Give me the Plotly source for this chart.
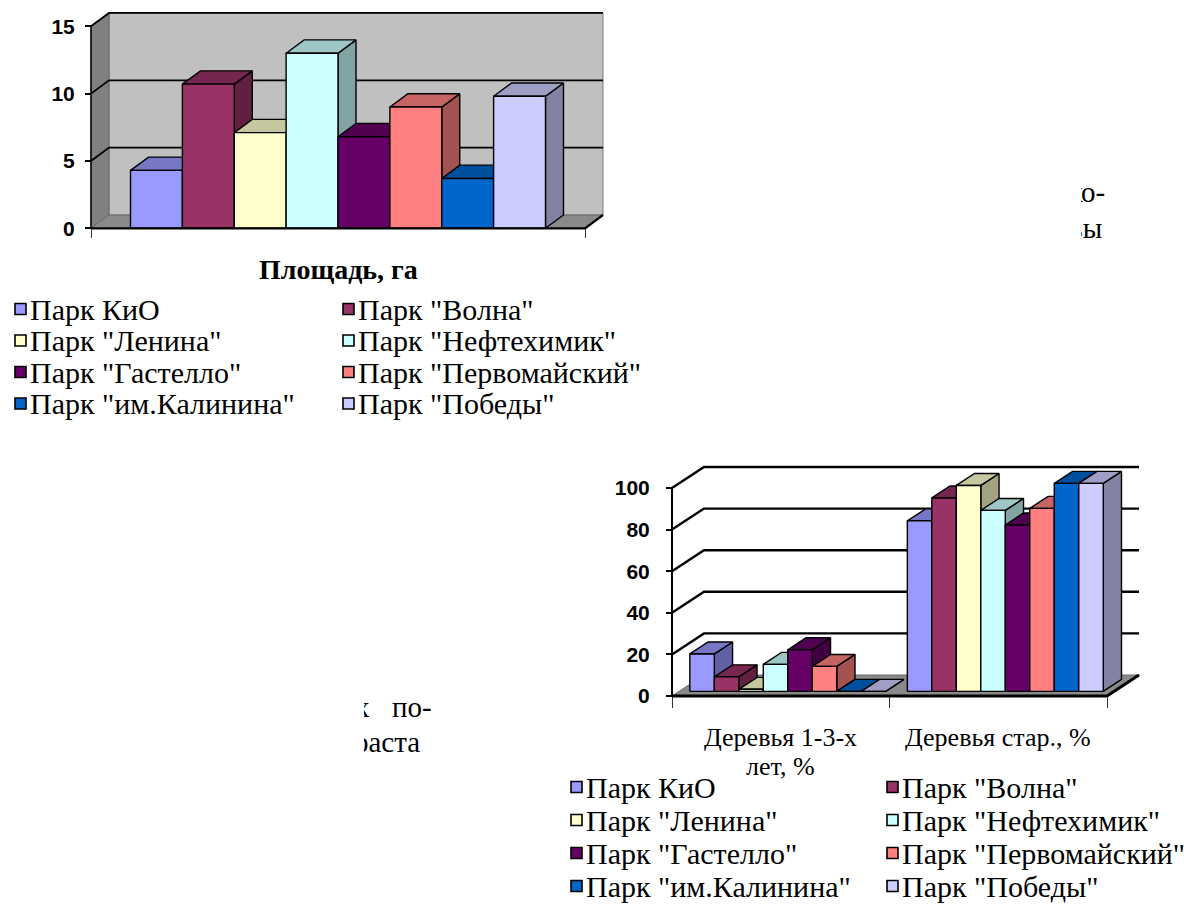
import plotly.graph_objects as go

W, H = 1184, 906

# ---- data -------------------------------------------------------------
parks = ['Парк КиО', 'Парк "Волна"', 'Парк "Ленина"', 'Парк "Нефтехимик"',
         'Парк "Гастелло"', 'Парк "Первомайский"', 'Парк "им.Калинина"', 'Парк "Победы"']
park_colors = ['#9999FF', '#993366', '#FFFFCC', '#CCFFFF',
               '#660066', '#FF8080', '#0066CC', '#CCCCFF']

area_categories = ['Площадь, га']
area_ha = [4.3, 10.7, 7.1, 13.0, 6.8, 9.0, 3.7, 9.8]
area_ticks = [0, 5, 10, 15]

tree_categories = ['Деревья 1-3-х<br>лет, %', 'Деревья стар., %']
young_trees_pct = [18, 7, 1, 13, 20, 12, 0, 0]
old_trees_pct = [82, 93, 99, 87, 80, 88, 100, 100]
tree_ticks = [0, 20, 40, 60, 80, 100]

SERIF = 'Times New Roman, Liberation Serif, serif'
SANS = 'Arial, Liberation Sans, sans-serif'


def px_x(x):
    return x / W


def px_y(y):
    return 1 - y / H


def shade(c, k):
    r, g, b = int(c[1:3], 16), int(c[3:5], 16), int(c[5:7], 16)
    return 'rgb(%d,%d,%d)' % (r * k, g * k, b * k)


fig = go.Figure()


def poly(xa, ya, xs, ys, fill, line_color='black', lw=1.4):
    fig.add_trace(go.Scatter(
        x=xs + [xs[0]], y=ys + [ys[0]], mode='lines', fill='toself',
        fillcolor=fill, line=dict(color=line_color, width=lw),
        xaxis=xa, yaxis=ya, hoverinfo='skip', showlegend=False))


def lines(xa, ya, xs, ys, color='black', lw=1.5):
    fig.add_trace(go.Scatter(
        x=xs, y=ys, mode='lines', line=dict(color=color, width=lw),
        xaxis=xa, yaxis=ya, hoverinfo='skip', showlegend=False))


def build_chart(g, categories, series, ticks):
    """Pseudo-3D clustered columns: walls, floor, gridlines and bar faces."""
    sfx = g['ax']
    xa, ya = 'x' + sfx, 'y' + sfx
    dx = g['dx'] / g['ux']          # depth offset in axis units
    dy = g['dy'] / g['uy']
    n = len(categories)
    top = ticks[-1]

    # back wall and left side wall
    if g['wall']:
        poly(xa, ya, [dx, n + dx, n + dx, dx], [dy, dy, top + dy, top + dy],
             g['wall'], line_color='#7a7a7a', lw=1)
    if g['side']:
        poly(xa, ya, [0, dx, dx, 0], [0, dy, top + dy, top],
             g['side'], line_color='#6a6a6a', lw=1)
    # floor
    poly(xa, ya, [0, n, n + dx, dx], [0, 0, dy, dy], g['floor'],
         line_color='#6a6a6a', lw=1)

    # gridlines across side wall and back wall
    gx, gy = [], []
    for t in ticks[1:]:
        gx += [0, dx, n + dx, None]
        gy += [t, t + dy, t + dy, None]
    lines(xa, ya, gx, gy, lw=g['grid_w'])

    # bars: side, top, front per bar so the next bar covers the previous side
    nb = len(series[0])
    bw = g['bar_w']
    pad = (1 - nb * bw) / 2
    f0x, f0y = g['f0'] * dx, g['f0'] * dy
    f1x, f1y = g['f1'] * dx, g['f1'] * dy
    for c in range(n):
        for i in range(nb):
            v = series[c][i]
            col = park_colors[i]
            x0 = c + pad + i * bw
            x1 = x0 + bw
            poly(xa, ya, [x1 + f0x, x1 + f1x, x1 + f1x, x1 + f0x],
                 [f0y, f1y, v + f1y, v + f0y], shade(col, 0.64))
            poly(xa, ya, [x0 + f0x, x1 + f0x, x1 + f1x, x0 + f1x],
                 [v + f0y, v + f0y, v + f1y, v + f1y], shade(col, 0.78))
            poly(xa, ya, [x0 + f0x, x1 + f0x, x1 + f0x, x0 + f0x],
                 [f0y, f0y, v + f0y, v + f0y], col)

    # floor front and right edges, front vertical axis edge
    lines(xa, ya, [0, n, n + dx], [0, 0, dy], lw=g['edge_w'])
    lines(xa, ya, [0, 0], [0, top], lw=g['axis_w'])

    bx0, by0, bx1, by1 = g['box']
    key = 'axis' + sfx
    fig.update_layout(**{
        'x' + key: dict(
            domain=[px_x(bx0), px_x(bx1)],
            range=[(bx0 - g['x0']) / g['ux'], (bx1 - g['x0']) / g['ux']],
            anchor='free', position=px_y(g['y0']),
            showgrid=False, zeroline=False, showline=False,
            showticklabels=False, ticks='', fixedrange=True,
            minor=dict(tickmode='array', tickvals=list(range(n + 1)),
                       ticks='outside', ticklen=g['xtick_len'],
                       tickwidth=1, tickcolor='#333', showgrid=False)),
        'y' + key: dict(
            domain=[px_y(by1), px_y(by0)],
            range=[(g['y0'] - by1) / g['uy'], (g['y0'] - by0) / g['uy']],
            anchor='free', position=px_x(g['x0']),
            tickmode='array', tickvals=ticks,
            ticks='outside', ticklen=6, tickwidth=1.5, tickcolor='black',
            tickfont=dict(family=SANS, size=g['tick_size'], color='black',
                          weight='bold'),
            ticklabelstandoff=g['standoff'],
            showgrid=False, zeroline=False, showline=False, fixedrange=True),
    })

    # category labels below the floor
    for c, label in enumerate(categories):
        for j, part in enumerate(label.split('<br>')):
            fig.add_annotation(
                x=c + 0.5, xref=xa, y=px_y(g['label_y'] + j * g['label_gap']),
                yref='paper', text=part, showarrow=False,
                xanchor='center', yanchor='middle',
                font=dict(family=SERIF, size=g['label_size'], color='black',
                          weight=g['label_weight']))


def build_legend(col_x, row_y, size):
    for i, name in enumerate(parks):
        r, c = divmod(i, 2)
        sx, sy = col_x[c], row_y[r]
        fig.add_shape(type='rect', xref='paper', yref='paper',
                      x0=px_x(sx), x1=px_x(sx + 11),
                      y0=px_y(sy + 5.5), y1=px_y(sy - 5.5),
                      fillcolor=park_colors[i],
                      line=dict(color='black', width=1.6))
        fig.add_annotation(x=px_x(sx + 13), y=px_y(sy), xref='paper', yref='paper',
                           text=name, showarrow=False, xanchor='left',
                           yanchor='middle',
                           font=dict(family=SERIF, size=size, color='black'))


chart1 = dict(ax='', x0=91, ux=494, y0=228.3, uy=13.47, dx=18, dy=13.3,
              box=(84, 8, 610, 243), wall='#C0C0C0', side='#808080',
              floor='#8A8A8A', grid_w=1.8, edge_w=2.2, axis_w=1.5,
              bar_w=0.105, f0=0.0, f1=1.0, xtick_len=9, tick_size=21,
              standoff=6, label_y=269, label_gap=25, label_size=28,
              label_weight='bold')
chart2 = dict(ax='2', x0=672, ux=217.5, y0=696, uy=2.08, dx=32, dy=21,
              box=(664, 458, 1150, 712), wall=None, side=None,
              floor='#8A8A8A', grid_w=2.4, edge_w=3, axis_w=2,
              bar_w=0.1126, f0=0.22, f1=0.79, xtick_len=11, tick_size=21,
              standoff=12, label_y=737, label_gap=29, label_size=26,
              label_weight='normal')

build_chart(chart1, area_categories, [area_ha], area_ticks)
build_chart(chart2, tree_categories, [young_trees_pct, old_trees_pct], tree_ticks)

build_legend([15, 343], [309, 340.5, 372, 403.5], 30)
build_legend([571, 887], [787, 820, 853, 886], 30)

# fragments of the surrounding page text, clipped at the chart frames
fragments = [
    dict(ax='3', box=(1081, 175, 1184, 250),
         text=['ко-', 'вы'], x=[1068.5, 1069], y=[195, 231]),
    dict(ax='4', box=(364, 688, 460, 770),
         text=['х', 'по-', 'раста'], x=[355, 392, 354], y=[710, 710, 745]),
]
for fr in fragments:
    bx0, by0, bx1, by1 = fr['box']
    fig.add_trace(go.Scatter(
        x=fr['x'], y=fr['y'], text=fr['text'], mode='text',
        textposition='middle right', cliponaxis=True,
        textfont=dict(family=SERIF, size=29, color='black'),
        xaxis='x' + fr['ax'], yaxis='y' + fr['ax'],
        hoverinfo='skip', showlegend=False))
    fig.update_layout(**{
        'xaxis' + fr['ax']: dict(domain=[px_x(bx0), px_x(bx1)], range=[bx0, bx1],
                                 visible=False, fixedrange=True),
        'yaxis' + fr['ax']: dict(domain=[px_y(by1), px_y(by0)], range=[by1, by0],
                                 visible=False, fixedrange=True),
    })

fig.update_layout(
    width=W, height=H, margin=dict(l=0, r=0, t=0, b=0),
    paper_bgcolor='white', plot_bgcolor='rgba(0,0,0,0)',
    showlegend=False, hovermode=False,
)

fig.write_html('out.html', config={'displayModeBar': False})
